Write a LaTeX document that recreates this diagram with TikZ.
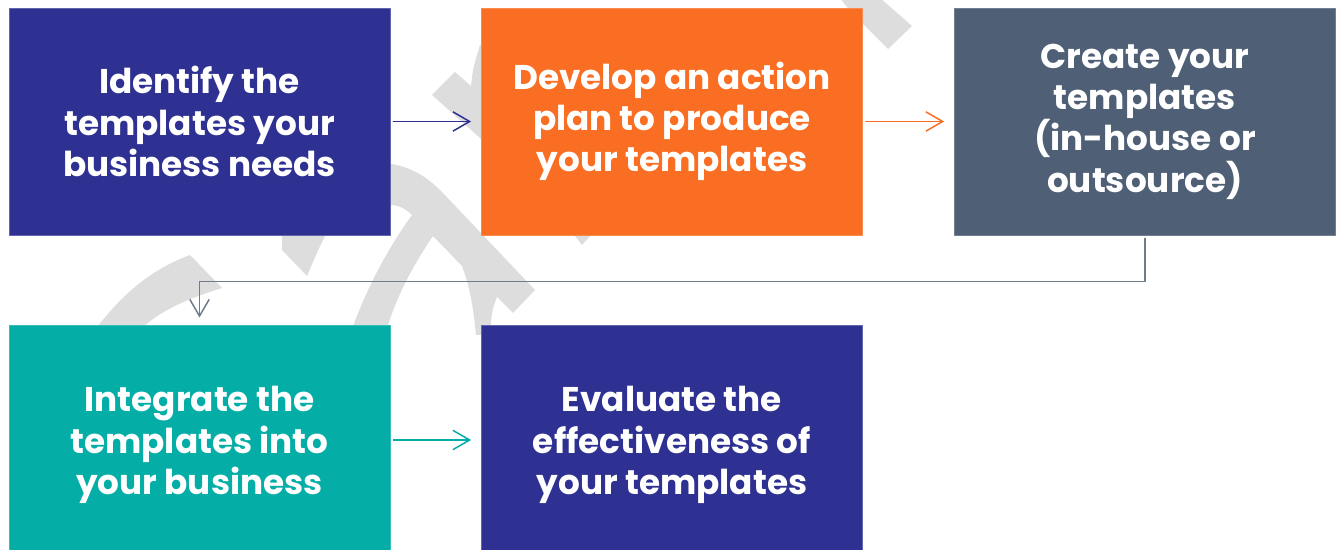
\documentclass[tikz,border=0pt]{standalone}
\usepackage{fontspec}
\setmainfont{Poppins}
\usetikzlibrary{arrows.meta,positioning}

\definecolor{stepblue}{RGB}{46,49,146}
\definecolor{steporange}{RGB}{249,110,34}
\definecolor{stepslate}{RGB}{79,95,117}
\definecolor{stepteal}{RGB}{4,173,166}
\definecolor{linkgray}{RGB}{112,124,140}
\definecolor{markgray}{RGB}{221,221,221}

\tikzset{
  stepbox/.style={rectangle,minimum width=7.62cm,minimum height=4.54cm,
    inner sep=0pt,align=center,text=white,line width=0.5pt,
    font=\bfseries\fontsize{19.5}{23.5}\selectfont},
  lowbox/.style={stepbox,minimum height=4.8cm},
  flow/.style={->,line width=0.85pt,shorten <=0.06cm,shorten >=0.2cm}
}

\begin{document}
\begin{tikzpicture}[x=0.02cm,y=-0.02cm,>={Straight Barb[length=9.5pt,width=11pt]},
  line cap=round,line join=round]
 \useasboundingbox (0,0) rectangle (1343,550);
 % faint watermark strokes behind the boxes
 \fill[markgray] (95,330) .. controls (125,290) and (155,268) .. (190,255)
   -- (222,288) .. controls (190,298) and (160,310) .. (140,330) -- cycle;
 \fill[markgray] (282,230) -- (328,230) .. controls (318,250) .. (307,276)
   -- (282,250) -- cycle;
 \fill[markgray] (385,163) .. controls (412,166) and (428,178) .. (442,192)
   -- (535,290) -- (513,313) -- (497,297) .. controls (492,310) .. (490,335)
   -- (476,335) .. controls (473,305) and (470,288) .. (462,266) -- (433,236)
   .. controls (410,270) and (395,300) .. (385,335) -- (350,335)
   .. controls (365,290) and (390,245) .. (412,215)
   .. controls (405,208) and (398,205) .. (385,204) -- cycle;
 \fill[markgray] (432,95) -- (455,72) -- (471,86) .. controls (473,68) .. (480,45)
   -- (486,45) -- (486,145) -- (480,138) -- cycle;
 \fill[markgray] (840,-2) -- (880,-2) -- (912,26) -- (888,49) -- (850,11) -- cycle;
 \fill[markgray] (575,236) -- (590,236) -- (582,245) -- cycle;

 % the five steps
 \node[stepbox,fill=stepblue,draw=stepblue!75!white] (identify) at (199.5,121.5)
  {Identify the\\templates your\\business needs};
 \node[stepbox,fill=steporange,draw=steporange!80!white] (plan) at (672,121.5)
  {Develop an action\\plan to produce\\your templates};
 \node[stepbox,fill=stepslate,draw=stepslate!80!white] (create) at (1145,121.5)
  {Create your\\templates\\(in-house or\\outsource)};
 \node[lowbox,fill=stepteal,draw=stepteal!80!white] (integrate) at (199.5,445)
  {Integrate the\\templates into\\your business};
 \node[lowbox,fill=stepblue,draw=stepblue!75!white] (evaluate) at (672,445)
  {Evaluate the\\effectiveness of\\your templates};

 % connectors
 \draw[flow,stepblue] (identify) -- (plan);
 \draw[flow,steporange] (plan) -- (create);
 \draw[flow,linkgray,shorten >=0.14cm] (create.south) -- ++(0,46) -| (integrate.north);
 \draw[flow,stepteal] (integrate.east |- 0,440) -- (evaluate.west |- 0,440);
\end{tikzpicture}
\end{document}
